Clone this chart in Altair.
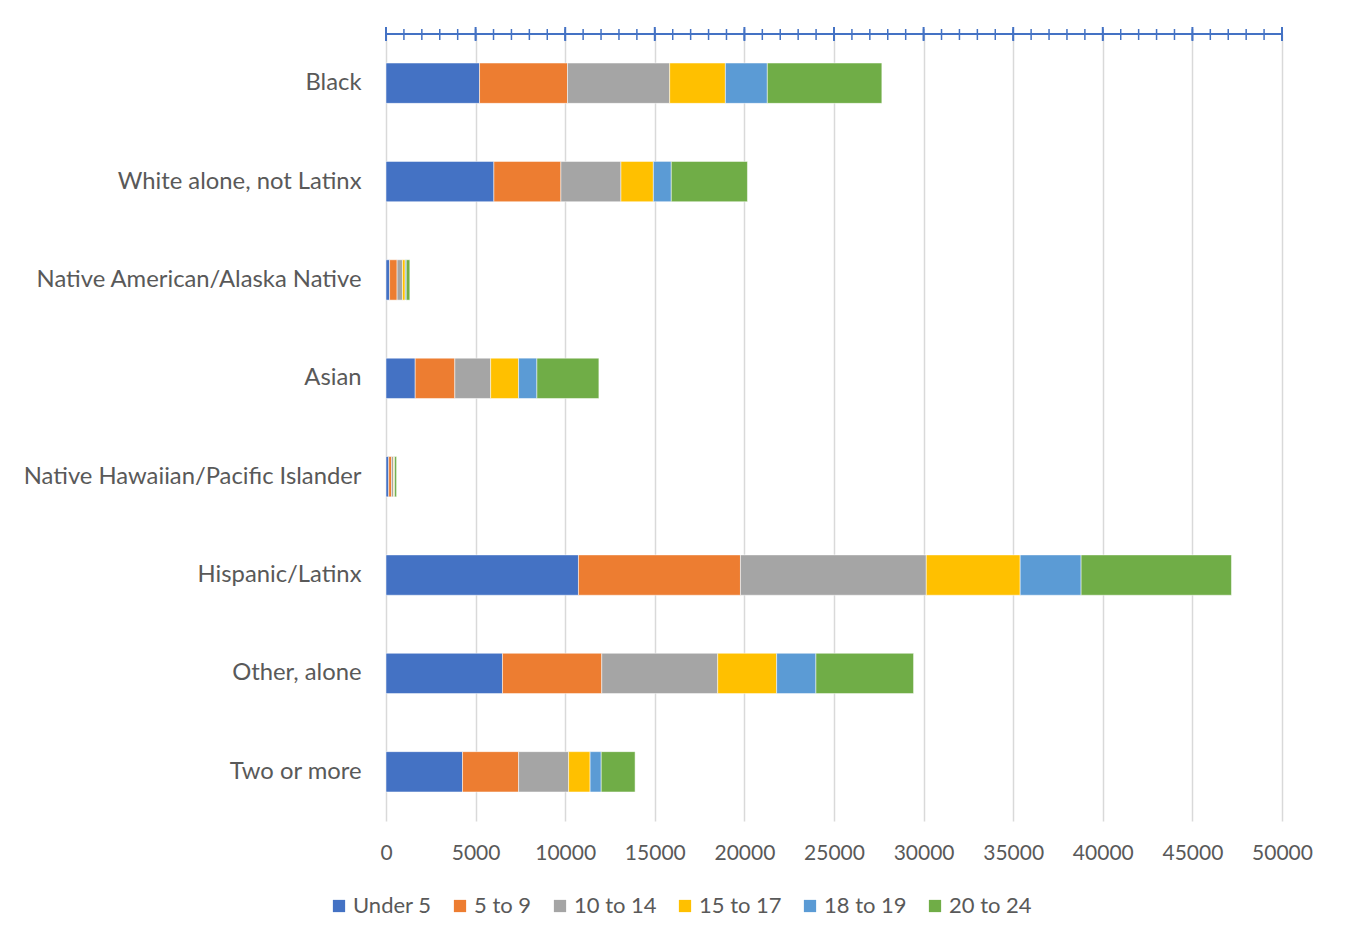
import altair as alt
import pandas as pd

categories = [
    "Black",
    "White alone, not Latinx",
    "Native American/Alaska Native",
    "Asian",
    "Native Hawaiian/Pacific Islander",
    "Hispanic/Latinx",
    "Other, alone",
    "Two or more",
]
age_groups = ["Under 5", "5 to 9", "10 to 14", "15 to 17", "18 to 19", "20 to 24"]
colors = ["#4472C4", "#ED7D31", "#A5A5A5", "#FFC000", "#5B9BD5", "#70AD47"]

under5 = [5220, 6020, 200, 1630, 150, 10740, 6500, 4270]
age5_9 = [4910, 3740, 420, 2210, 160, 9040, 5540, 3130]
age10_14 = [5700, 3350, 300, 2000, 110, 10370, 6470, 2790]
age15_17 = [3110, 1810, 150, 1560, 40, 5240, 3290, 1200]
age18_19 = [2340, 1000, 60, 1020, 20, 3400, 2190, 620]
age20_24 = [6390, 4250, 200, 3460, 110, 8390, 5450, 1890]

major_ticks = [0, 5000, 10000, 15000, 20000, 25000, 30000, 35000, 40000, 45000, 50000]
minor_ticks = list(range(0, 50001, 1000))

series = [under5, age5_9, age10_14, age15_17, age18_19, age20_24]
rows = []
for gi, (g, vals) in enumerate(zip(age_groups, series)):
    for c, v in zip(categories, vals):
        rows.append({"category": c, "group": g, "order": gi, "value": v})
df = pd.DataFrame(rows)

FONT = "Lato"
TXT = "#595959"
BLUE = "#4472C4"
W, H = 896, 787

xscale = alt.Scale(domain=[0, 50000], nice=False, zero=True)
xaxis = alt.Axis(
    orient="bottom",
    values=major_ticks,
    domain=False,
    ticks=False,
    tickSize=0,
    grid=True,
    gridColor="#D9D9D9",
    gridWidth=1.5,
    labelFontSize=21,
    labelColor=TXT,
    labelFont=FONT,
    labelPadding=21,
    labelFlush=False,
    format="d",
)

bars = alt.Chart(df).mark_bar(stroke="white", strokeWidth=0.5).encode(
    x=alt.X("value:Q", stack="zero", scale=xscale, title=None, axis=xaxis),
    y=alt.Y(
        "category:N",
        sort=categories,
        title=None,
        scale=alt.Scale(paddingInner=0.59, paddingOuter=0.295),
        axis=alt.Axis(
            domain=False,
            ticks=False,
            grid=False,
            labelFontSize=23.8,
            labelColor=TXT,
            labelFont=FONT,
            labelPadding=25,
            labelLimit=500,
        ),
    ),
    color=alt.Color(
        "group:N",
        sort=age_groups,
        scale=alt.Scale(domain=age_groups, range=colors),
        legend=alt.Legend(
            title=None,
            orient="none",
            direction="horizontal",
            legendX=-58,
            legendY=861,
            symbolType="square",
            symbolSize=150,
            symbolStrokeWidth=0,
            labelFontSize=22,
            labelFont=FONT,
            labelColor=TXT,
            labelOffset=3,
            columnPadding=17,
            padding=0,
        ),
    ),
    order=alt.Order("order:Q"),
)

minor_df = pd.DataFrame({"v": minor_ticks})
major_df = pd.DataFrame({"v": major_ticks})

minor = alt.Chart(minor_df).mark_rule(color=BLUE, strokeWidth=1.5).encode(
    x=alt.X("v:Q", scale=xscale, title=None, axis=xaxis),
    y=alt.value(-5),
    y2=alt.value(6),
)
major = alt.Chart(major_df).mark_rule(color=BLUE, strokeWidth=2).encode(
    x=alt.X("v:Q", scale=xscale, title=None, axis=xaxis),
    y=alt.value(-7),
    y2=alt.value(7),
)
topline = alt.Chart(pd.DataFrame({"a": [0], "b": [50000]})).mark_rule(color=BLUE, strokeWidth=2).encode(
    x=alt.X("a:Q", scale=xscale, title=None, axis=xaxis),
    x2="b:Q",
    y=alt.value(0),
)

chart = alt.layer(bars, minor, major, topline).properties(
    width=W,
    height=H,
    autosize=alt.AutoSizeParams(type="none"),
    padding={"left": 378, "top": 26, "right": 57, "bottom": 110},
).configure(font=FONT).configure_view(stroke=None)

chart.save("out.html", embed_options={"renderer": "svg", "actions": False})
